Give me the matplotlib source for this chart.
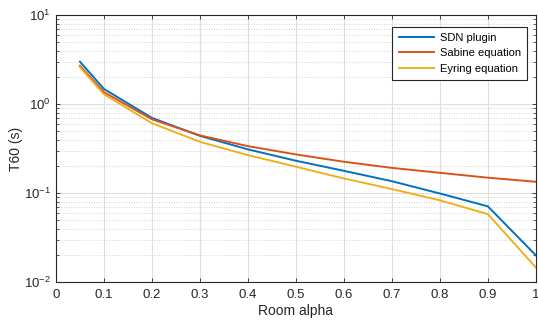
import matplotlib
matplotlib.use("Agg")
import matplotlib.pyplot as plt
from matplotlib.ticker import LogLocator, NullFormatter

# Data
alpha = [0.05, 0.1, 0.2, 0.3, 0.4, 0.5, 0.6, 0.7, 0.8, 0.9, 1.0]
sdn = [3.0, 1.48, 0.70, 0.44, 0.31, 0.231, 0.178, 0.136, 0.099, 0.071, 0.020]
sabine = [2.7, 1.36, 0.675, 0.445, 0.337, 0.272, 0.225, 0.192, 0.169, 0.149, 0.134]
eyring = [2.6, 1.29, 0.61, 0.377, 0.267, 0.198, 0.146, 0.111, 0.083, 0.058, 0.0146]

labels = ["SDN plugin", "Sabine equation", "Eyring equation"]
colors = ["#0072BD", "#D95319", "#EDB120"]

plt.rcParams['font.family'] = ['Liberation Sans', 'DejaVu Sans']
plt.rcParams['font.size'] = 9.5

fig = plt.figure(figsize=(5.38, 3.22), dpi=100)
ax = fig.add_axes([0.104, 0.124, 0.892, 0.829])

for ys, lab, c in zip([sdn, sabine, eyring], labels, colors):
    ax.plot(alpha, ys, color=c, linewidth=1.4, label=lab)

ax.set_yscale('log')
ax.set_xlim(0, 1)
ax.set_ylim(1e-2, 1e1)
ax.set_xticks([i / 10 for i in range(11)])
ax.set_xticklabels(["0", "0.1", "0.2", "0.3", "0.4", "0.5", "0.6", "0.7", "0.8", "0.9", "1"])
ax.yaxis.set_major_locator(LogLocator(base=10, numticks=10))
ax.yaxis.set_minor_locator(LogLocator(base=10, subs=range(2, 10), numticks=20))
ax.yaxis.set_minor_formatter(NullFormatter())

ax.grid(True, which='major', color='#dedede', linewidth=0.8, linestyle='-')
ax.grid(True, which='minor', axis='y', color='#c8c8c8', linewidth=0.6, linestyle=(0, (1, 2)))
ax.set_axisbelow(True)

ax.tick_params(which='both', direction='in', top=True, right=True, colors='#262626', labelcolor='#262626')
ax.tick_params(which='major', length=3, width=0.6, labelsize=9.5)
ax.tick_params(axis='x', which='major', pad=5)
ax.tick_params(which='minor', length=2, width=0.5)
for s in ax.spines.values():
    s.set_color('#262626')
    s.set_linewidth(0.8)

ax.set_xlabel("Room alpha", color='#262626', fontsize=10, labelpad=2)
ax.set_ylabel("T60 (s)", color='#262626', fontsize=10, labelpad=1)

leg = ax.legend(loc='upper right', bbox_to_anchor=(0.993, 0.978), fancybox=False,
                edgecolor='#262626', framealpha=1, fontsize=8, handlelength=3.2,
                borderpad=0.55, labelspacing=0.5, handletextpad=0.5)
leg.get_frame().set_linewidth(0.8)

fig.savefig("out.png", dpi=100)
